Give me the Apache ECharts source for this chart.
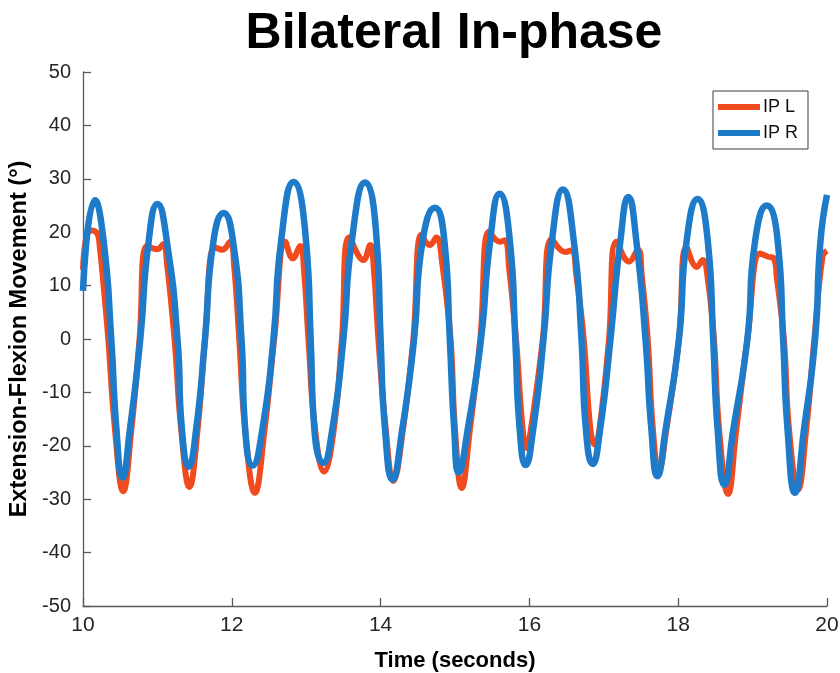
<!DOCTYPE html>
<html>
<head>
<meta charset="utf-8">
<title>Bilateral In-phase</title>
<script src="https://cdn.jsdelivr.net/npm/echarts@6/dist/echarts.min.js"></script>
<style>
  html, body { margin: 0; padding: 0; background: #ffffff; }
  #chart { width: 840px; height: 673px; }
</style>
</head>
<body>
<div id="chart"></div>
<script>
// Left joint (IP L): time in seconds and extension-flexion angle in degrees
const ipLTime = [
  10.00, 10.05, 10.11, 10.19, 10.22, 10.29, 10.34, 10.43, 10.54, 10.65,
  10.76, 10.86, 11.00, 11.08, 11.13, 11.23, 11.32, 11.43, 11.54,
  11.64, 11.77, 11.87, 11.98, 12.03, 12.10, 12.18, 12.31, 12.44,
  12.57, 12.72, 12.82, 12.92, 12.97, 13.03, 13.12, 13.24, 13.37,
  13.48, 13.58, 13.77, 13.86, 13.91, 13.97, 14.07, 14.17, 14.30,
  14.44, 14.55, 14.66, 14.75, 14.83, 14.94, 15.00, 15.09, 15.20,
  15.34, 15.46, 15.60, 15.67, 15.73, 15.82, 15.91, 15.96, 16.02,
  16.18, 16.30, 16.48, 16.57, 16.63, 16.73, 16.82, 16.88, 16.94,
  17.07, 17.17, 17.34, 17.46, 17.51, 17.59, 17.66, 17.74, 17.84,
  18.01, 18.11, 18.25, 18.33, 18.40, 18.48, 18.55, 18.67, 18.78,
  18.93, 19.10, 19.21, 19.28, 19.33, 19.42, 19.49, 19.61, 19.72,
  19.83, 19.94, 20.00
];
const ipLAngle = [
  13.0, 19.5, 20.3, 19.8, 18.0, 8.0, 0, -17, -28.5, -17,
  0, 17.4, 16.8, 17.8, 14.0, 0, -17, -27.7, -17,
  0, 17.2, 16.7, 18.2, 14.0, 0, -17, -28.8, -17,
  0, 18.2, 15.1, 17.4, 13.0, 0, -17, -24.8, -17,
  0, 19.0, 14.8, 17.6, 13.0, 0, -17, -26.6, -17,
  0, 19.5, 17.6, 19.0, 14.0, 0, -17, -27.9, -17,
  0, 20.1, 18.2, 18.5, 13.0, 0, -17, -20.4, -17,
  0, 18.7, 16.3, 16.6, 12.0, 0, -17, -19.8, -17,
  0, 18.2, 14.5, 16.7, 12.0, 0, -17, -24.7, -17,
  0, 17.2, 13.5, 14.8, 11.0, 0, -17, -29.0, -17,
  0, 16.0, 15.4, 15.2, 11.0, 0, -17, -28.2, -17,
  0, 15.5, 16.5
];

// Right joint (IP R)
const ipRTime = [
  10.00, 10.16, 10.28, 10.38, 10.45, 10.53, 10.63,
  10.77, 10.88, 11.00, 11.13, 11.27, 11.33, 11.42, 11.52,
  11.64, 11.75, 11.89, 12.02, 12.13, 12.18, 12.28, 12.41,
  12.56, 12.66, 12.83, 13.00, 13.06, 13.11, 13.23, 13.35,
  13.50, 13.61, 13.79, 13.95, 14.00, 14.06, 14.16, 14.29,
  14.45, 14.56, 14.73, 14.86, 14.93, 14.99, 15.05, 15.17,
  15.35, 15.47, 15.60, 15.74, 15.81, 15.87, 15.95, 16.05,
  16.19, 16.30, 16.45, 16.60, 16.70, 16.76, 16.85, 16.95,
  17.09, 17.22, 17.33, 17.44, 17.56, 17.64, 17.72, 17.83,
  18.01, 18.11, 18.26, 18.40, 18.47, 18.53, 18.62, 18.74,
  18.93, 19.03, 19.19, 19.34, 19.41, 19.47, 19.57, 19.69,
  19.84, 19.91, 20.00
];
const ipRAngle = [
  9.0, 26.0, 18, 0, -17, -26.0, -17,
  0, 18, 25.3, 18, 0, -17, -23.9, -17,
  0, 18, 23.6, 18, 0, -17, -23.7, -17,
  0, 18, 29.4, 18, 0, -17, -23.2, -17,
  0, 18, 29.3, 18, 0, -17, -26.3, -17,
  0, 18, 24.6, 18, 0, -17, -25.0, -17,
  0, 18, 27.2, 18, 0, -17, -23.6, -17,
  0, 18, 28.0, 18, 0, -17, -23.4, -17,
  0, 18, 26.6, 18, 0, -17, -25.7, -17,
  0, 18, 26.2, 18, 0, -17, -27.3, -17,
  0, 18, 25.0, 18, 0, -17, -28.8, -17,
  0, 18, 27.0
];

// Axis ticks
const timeTicks = { min: 10, max: 20, step: 2 };
const angleTicks = { min: -50, max: 50, step: 10 };

const seriesNames = ['IP L', 'IP R'];
const seriesColors = ['#EF4B1E', '#1D7BC9'];

const pairs = (xs, ys) => xs.map((x, i) => [x, ys[i]]);

const FONT = "'Liberation Sans', Arial, Helvetica, sans-serif";
const AXIS_GREY = '#5a5a5a';

const chart = echarts.init(document.getElementById('chart'), null, { renderer: 'canvas' });

chart.setOption({
  backgroundColor: '#ffffff',
  animation: false,
  title: {
    text: 'Bilateral In-phase',
    left: 449,
    textAlign: 'center',
    top: 4,
    textStyle: { fontFamily: FONT, fontSize: 50, fontWeight: 'bold', color: '#000000' }
  },
  legend: {
    data: seriesNames,
    orient: 'vertical',
    left: 713,
    top: 91,
    padding: [7, 10, 7, 5],
    itemGap: 8,
    itemWidth: 42,
    itemHeight: 6,
    icon: 'rect',
    backgroundColor: '#ffffff',
    borderColor: '#3c3c3c',
    borderWidth: 1,
    borderRadius: 0,
    textStyle: { fontFamily: FONT, fontSize: 18, color: '#111111', padding: [0, 0, 0, -2] }
  },
  grid: {
    left: 83, right: 13, top: 72, bottom: 67,
    containLabel: false,
    outerBoundsMode: 'none'
  },
  xAxis: {
    type: 'value',
    min: timeTicks.min,
    max: timeTicks.max,
    interval: timeTicks.step,
    name: 'Time (seconds)',
    nameLocation: 'middle',
    nameGap: 44,
    nameTextStyle: { fontFamily: FONT, fontSize: 22, fontWeight: 'bold', color: '#000000' },
    axisLine: { show: true, onZero: false, lineStyle: { color: AXIS_GREY, width: 1.3 } },
    axisTick: { show: true, inside: true, length: 8, lineStyle: { color: AXIS_GREY, width: 1.3 } },
    axisLabel: { fontFamily: FONT, fontSize: 21, color: '#262626', margin: 9 },
    splitLine: { show: false }
  },
  yAxis: {
    type: 'value',
    min: angleTicks.min,
    max: angleTicks.max,
    interval: angleTicks.step,
    name: 'Extension-Flexion Movement (°)',
    nameLocation: 'middle',
    nameGap: 43,
    nameTextStyle: { fontFamily: FONT, fontSize: 23.5, fontWeight: 'bold', color: '#000000' },
    axisLine: { show: true, onZero: false, lineStyle: { color: AXIS_GREY, width: 1.3 } },
    axisTick: { show: true, inside: true, length: 8, lineStyle: { color: AXIS_GREY, width: 1.3 } },
    axisLabel: { fontFamily: FONT, fontSize: 20, color: '#262626', margin: 12 },
    splitLine: { show: false }
  },
  series: [
    {
      name: seriesNames[0],
      type: 'line',
      data: pairs(ipLTime, ipLAngle),
      smooth: 0.45,
      showSymbol: false,
      lineStyle: { color: seriesColors[0], width: 6 },
      itemStyle: { color: seriesColors[0] },
      clip: true
    },
    {
      name: seriesNames[1],
      type: 'line',
      data: pairs(ipRTime, ipRAngle),
      smooth: 0.55,
      showSymbol: false,
      lineStyle: { color: seriesColors[1], width: 6.5 },
      itemStyle: { color: seriesColors[1] },
      clip: true
    }
  ]
});
</script>
</body>
</html>
